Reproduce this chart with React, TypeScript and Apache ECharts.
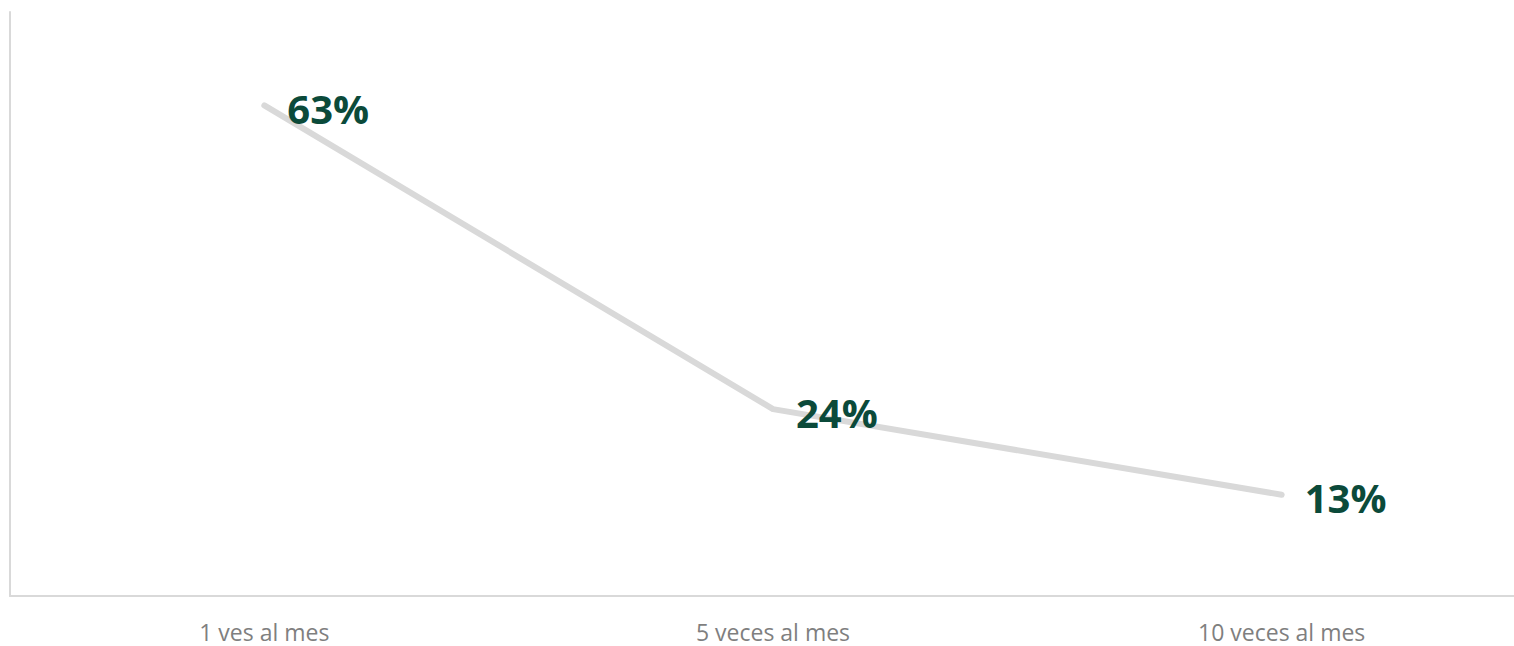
import React, { useEffect, useRef } from "react";
import * as echarts from "echarts";

const categories = ["1 ves al mes", "5 veces al mes", "10 veces al mes"];
const values = [63, 24, 13];

export default function App() {
  const ref = useRef<HTMLDivElement>(null);
  useEffect(() => {
    if (!ref.current) return;
    const chart = echarts.init(ref.current, null, { renderer: "svg" });
    chart.setOption({
      animation: false,
      grid: { left: 10, width: 1526, top: 12, bottom: 50, outerBoundsMode: "none", containLabel: false },
      xAxis: {
        type: "category",
        data: categories,
        boundaryGap: true,
        axisLine: { show: true, lineStyle: { color: "#D9D9D9", width: 2 } },
        axisTick: { show: false },
        axisLabel: {
          color: "#7F7F7F",
          fontFamily: "Open Sans",
          fontSize: 23,
          margin: 24,
        },
      },
      yAxis: {
        type: "value",
        min: 0,
        max: 75,
        splitLine: { show: false },
        axisLabel: { show: false },
        axisTick: { show: false },
        axisLine: { show: true, lineStyle: { color: "#D9D9D9", width: 2 } },
      },
      series: [
        {
          type: "line",
          data: values,
          symbol: "circle",
          symbolSize: 2,
          showSymbol: true,
          itemStyle: { color: "#D9D9D9" },
          lineStyle: { color: "#D9D9D9", width: 6, cap: "round", join: "round" },
          label: {
            show: true,
            position: "right",
            distance: 22,
            offset: [0, 3],
            formatter: "{c}%",
            color: "#0B4A3A",
            fontFamily: "Open Sans",
            fontWeight: "bold",
            fontSize: 40,
          },
        },
      ],
    });
    return () => chart.dispose();
  }, []);
  return (
    <div
      ref={ref}
      style={{ position: "absolute", left: 0, top: 0, width: 1514, height: 646 }}
    />
  );
}
